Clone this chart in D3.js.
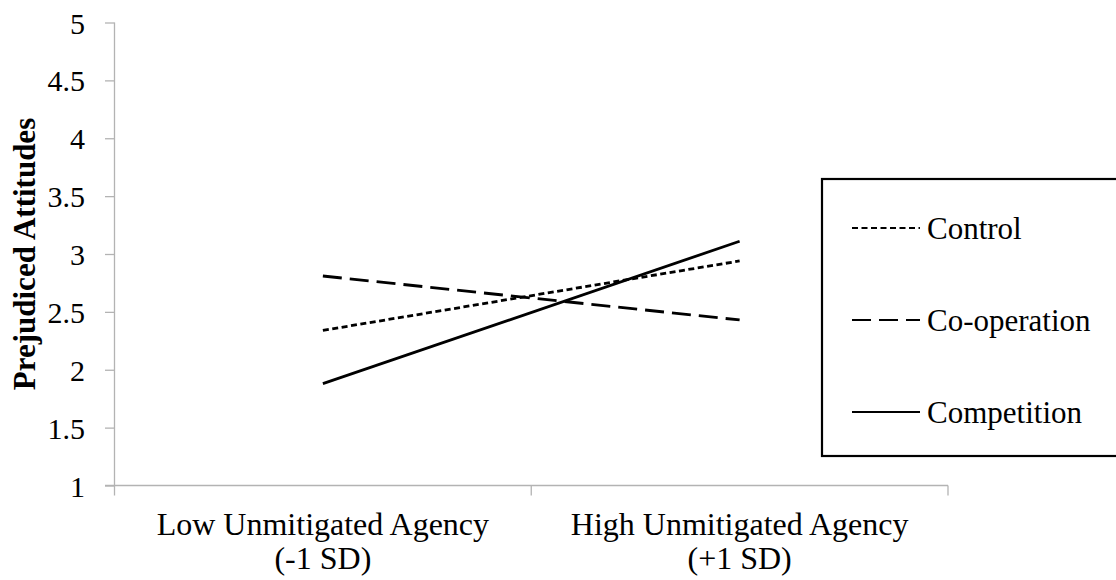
<!DOCTYPE html>
<html>
<head>
<meta charset="utf-8">
<script src="https://cdn.jsdelivr.net/npm/d3@7"></script>
<style>
  html, body { margin: 0; padding: 0; background: #fff; }
  svg { display: block; }
  text { font-family: "Liberation Serif", "Times New Roman", serif; fill: #000; }
</style>
</head>
<body>
<svg id="chart" width="1116" height="580" font-family="Liberation Serif"></svg>
<script>
// ---- data ----
const categories = ["Low Unmitigated Agency|(-1 SD)", "High Unmitigated Agency|(+1 SD)"];
const seriesNames = ["Control", "Co-operation", "Competition"];
const controlValues = [2.34, 2.94];
const cooperationValues = [2.81, 2.43];
const competitionValues = [1.88, 3.11];
const yTicks = [1, 1.5, 2, 2.5, 3, 3.5, 4, 4.5, 5];
const yTitle = "Prejudiced Attitudes";

const seriesValues = [controlValues, cooperationValues, competitionValues];
const dashes = ["6,3.5", "19,8", null];
const serif = '"Liberation Serif", "Times New Roman", serif';

const svg = d3.select("#chart");
const axisColor = "#b3b3b3";

const x = d3.scaleBand().domain(categories).range([114.5, 948]).padding(0);
const y = d3.scaleLinear().domain([1, 5]).range([485.5, 22.5]);
const cx = c => x(c) + x.bandwidth() / 2;

// y axis
const yAxis = svg.append("g").attr("transform", "translate(114.5,0)")
  .call(d3.axisLeft(y).tickValues(yTicks).tickSize(9.5).tickPadding(20).tickFormat(d => String(d)));
yAxis.attr("font-family", serif).attr("font-size", 30);
yAxis.select(".domain").attr("stroke", axisColor).attr("stroke-width", 1.3).attr("d", `M0,${y(5)}V${y(1)}`);
yAxis.selectAll(".tick line").attr("stroke", axisColor).attr("stroke-width", 1.3);
yAxis.selectAll(".tick text").style("font-size", "30px").style("font-family", serif).attr("dy", "0.35em");

// x axis (ticks at band edges)
const xg = svg.append("g");
const [x0, x1] = x.range();
xg.append("line").attr("x1", x0 - 9.5).attr("x2", x1).attr("y1", y(1)).attr("y2", y(1))
  .attr("stroke", axisColor).attr("stroke-width", 1.3);
const edges = categories.map(c => x(c)).concat([x1]);
xg.selectAll(".xt").data(edges).join("line")
  .attr("x1", d => d).attr("x2", d => d).attr("y1", y(1)).attr("y2", y(1) + 10)
  .attr("stroke", axisColor).attr("stroke-width", 1.3);
const xl = xg.selectAll(".xl").data(categories).join("text")
  .attr("text-anchor", "middle").style("font-size", "32px").style("font-family", serif);
xl.each(function(c) {
  const parts = c.split("|");
  d3.select(this).selectAll("tspan").data(parts).join("tspan")
    .attr("x", cx(c)).attr("y", (d, i) => 535 + i * 34).text(d => d);
});

// y title
svg.append("text").attr("transform", `translate(35,${(y(1) + y(5)) / 2}) rotate(-90)`)
  .attr("text-anchor", "middle").style("font-size", "31px").style("font-weight", "bold")
  .style("font-family", serif).text(yTitle);

// lines
const line = d3.line().x((d, i) => cx(categories[i])).y(d => y(d));
svg.selectAll(".series").data(seriesValues).join("path")
  .attr("d", d => line(d))
  .attr("fill", "none").attr("stroke", "#000").attr("stroke-width", 2.8)
  .attr("stroke-dasharray", (d, i) => dashes[i]);

// legend
const lg = svg.append("g");
lg.append("rect").attr("x", 822).attr("y", 179).attr("width", 310).attr("height", 277)
  .attr("fill", "#fff").attr("stroke", "#000").attr("stroke-width", 2.2);
const rowY = [228, 320, 412];
seriesNames.forEach((name, i) => {
  lg.append("line").attr("x1", 852).attr("x2", 920).attr("y1", rowY[i]).attr("y2", rowY[i])
    .attr("stroke", "#000").attr("stroke-width", 2.2).attr("stroke-dasharray", dashes[i]);
  lg.append("text").attr("x", 927).attr("y", rowY[i] + 11).style("font-size", "31px")
    .style("font-family", serif).text(name);
});
</script>
</body>
</html>
